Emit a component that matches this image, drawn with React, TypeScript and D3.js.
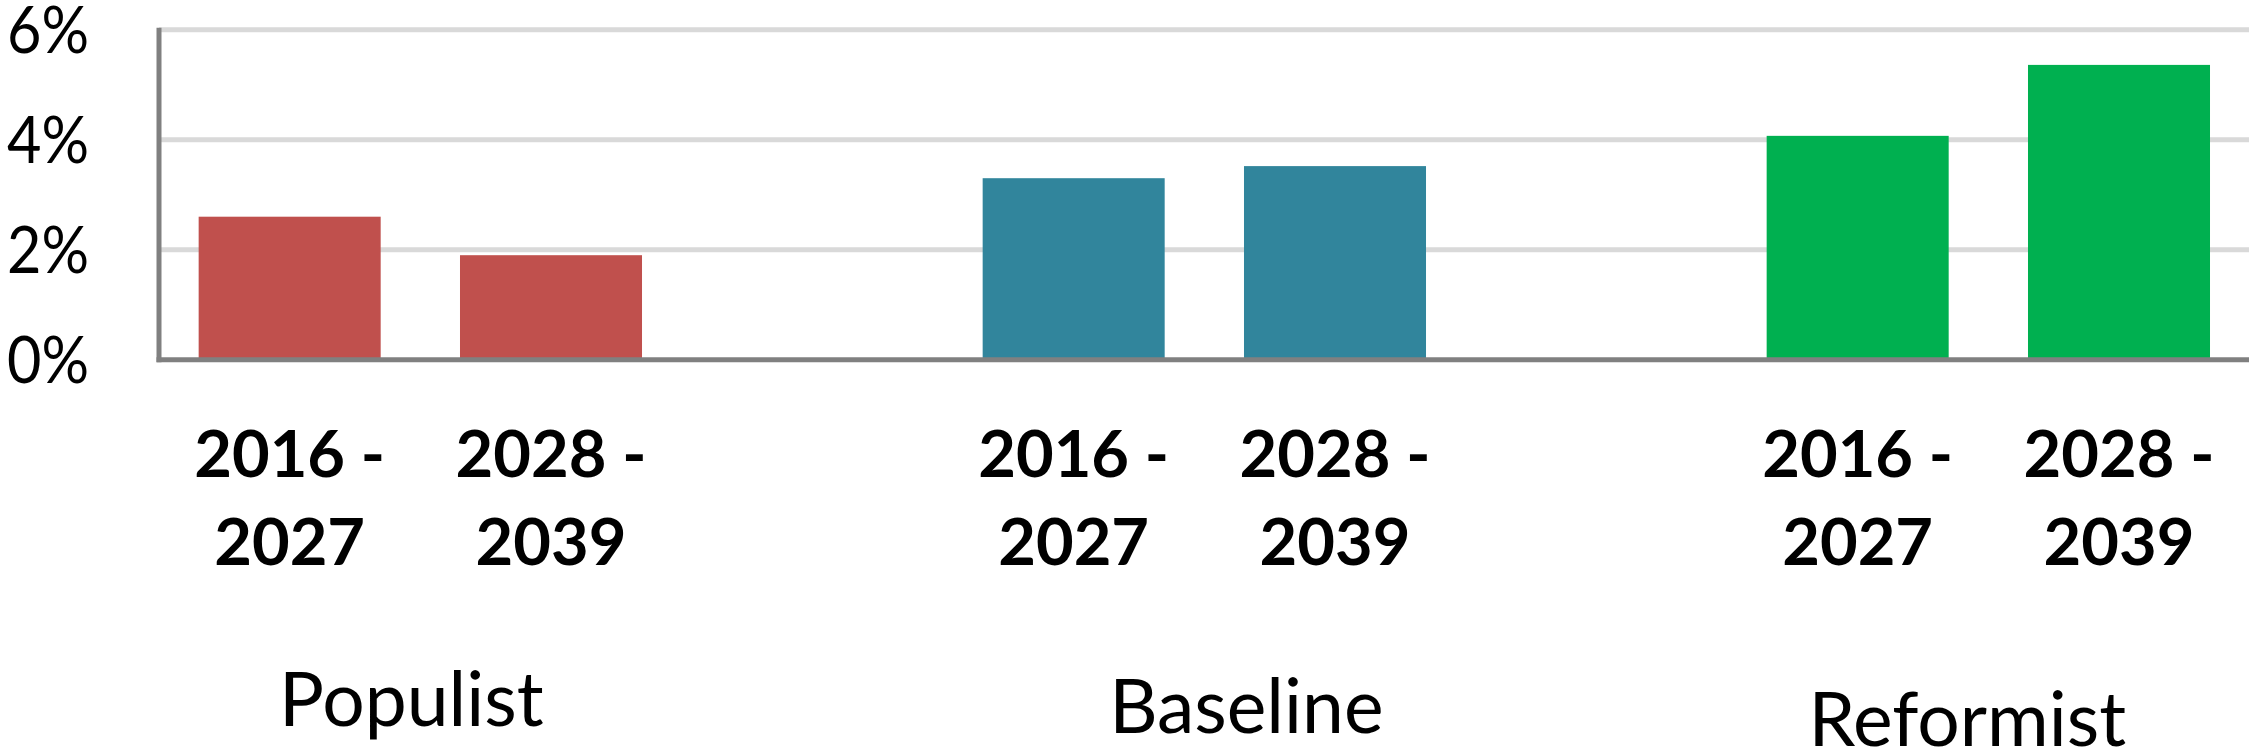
import React from "react";
import * as d3 from "d3";

// ---- data ----
const scenarios = ["Populist", "Baseline", "Reformist"];
const periods = ["2016 - 2027", "2028 - 2039"];
const periodLines = [["2016 -", "2027"], ["2028 -", "2039"]];
const populistValues = [2.6, 1.9];
const baselineValues = [3.3, 3.52];
const reformistValues = [4.07, 5.36];
const yTicks = [0, 2, 4, 6];
const scenarioColors = ["#C0504D", "#31859C", "#00B050"];

// ---- layout ----
const W = 2249;
const H = 755;
const plotLeft = 159;
const groupWidth = 784;
const y0px = 359.7;
const y6px = 29.7;
// manual nudges of the scenario text boxes (relative to group centre)
const scenarioLabelNudge = [
  { dx: -9, baseline: 726 },
  { dx: 42, baseline: 733 },
  { dx: -21, baseline: 746 },
];

const FONT = "Lato, 'Open Sans', sans-serif";

export default function App() {
  const seriesByScenario = [populistValues, baselineValues, reformistValues];

  const xOuter = d3
    .scaleBand<string>()
    .domain(scenarios)
    .range([plotLeft, plotLeft + groupWidth * scenarios.length])
    .paddingInner(0)
    .paddingOuter(0);

  const innerDomain = [...periods, "__gap__"];
  const xInner = d3
    .scaleBand<string>()
    .domain(innerDomain)
    .range([0, xOuter.bandwidth()])
    .paddingInner(0.3035)
    .paddingOuter(0.3035 / 2);

  const y = d3.scaleLinear().domain([0, 6]).range([y0px, y6px]);

  return (
    <svg
      width={W}
      height={H}
      viewBox={`0 0 ${W} ${H}`}
      style={{ position: "absolute", left: 0, top: 0, display: "block", background: "#fff" }}
    >
      {/* gridlines */}
      {yTicks
        .filter((t) => t !== 0)
        .map((t) => (
          <line
            key={"g" + t}
            x1={plotLeft}
            x2={W}
            y1={y(t)}
            y2={y(t)}
            stroke="#D9D9D9"
            strokeWidth={5}
          />
        ))}

      {/* bars */}
      {scenarios.map((s, si) =>
        periods.map((p, pi) => {
          const v = seriesByScenario[si][pi];
          const x = (xOuter(s) ?? 0) + (xInner(p) ?? 0);
          return (
            <rect
              key={s + p}
              x={x}
              y={y(v)}
              width={xInner.bandwidth()}
              height={y(0) - y(v)}
              fill={scenarioColors[si]}
            />
          );
        })
      )}

      {/* axes */}
      <line x1={plotLeft} x2={plotLeft} y1={y(6) - 2} y2={y(0) + 2.5} stroke="#808080" strokeWidth={5} />
      <line x1={plotLeft - 2.5} x2={W} y1={y(0)} y2={y(0)} stroke="#808080" strokeWidth={5} />

      {/* y tick labels */}
      {yTicks.map((t) => (
        <text
          key={"yt" + t}
          x={89}
          y={y(t) + 23}
          textAnchor="end"
          fontFamily={FONT}
          fontSize={66}
          textLength={82}
          lengthAdjust="spacingAndGlyphs"
          fill="#000"
        >
          {d3.format(".0%")(t / 100)}
        </text>
      ))}

      {/* period labels */}
      {scenarios.map((s, si) =>
        periods.map((p, pi) => {
          const cx = (xOuter(s) ?? 0) + (xInner(p) ?? 0) + xInner.bandwidth() / 2;
          return (
            <text
              key={"pl" + s + p}
              x={cx}
              textAnchor="middle"
              fontFamily={FONT}
              fontWeight={700}
              fontSize={65}
              fill="#000"
            >
              <tspan x={cx} y={476.5}>
                {periodLines[pi][0]}
              </tspan>
              <tspan x={cx} y={565}>
                {periodLines[pi][1]}
              </tspan>
            </text>
          );
        })
      )}

      {/* scenario labels */}
      {scenarios.map((s, si) => {
        const gx = (xOuter(s) ?? 0) + (xInner(periods[0]) ?? 0);
        const gx2 = (xOuter(s) ?? 0) + (xInner(periods[1]) ?? 0) + xInner.bandwidth();
        const cx = (gx + gx2) / 2 + scenarioLabelNudge[si].dx;
        return (
          <text
            key={"sl" + s}
            x={cx}
            y={scenarioLabelNudge[si].baseline}
            textAnchor="middle"
            fontFamily={FONT}
            fontSize={75}
            fill="#000"
          >
            {s}
          </text>
        );
      })}
    </svg>
  );
}
